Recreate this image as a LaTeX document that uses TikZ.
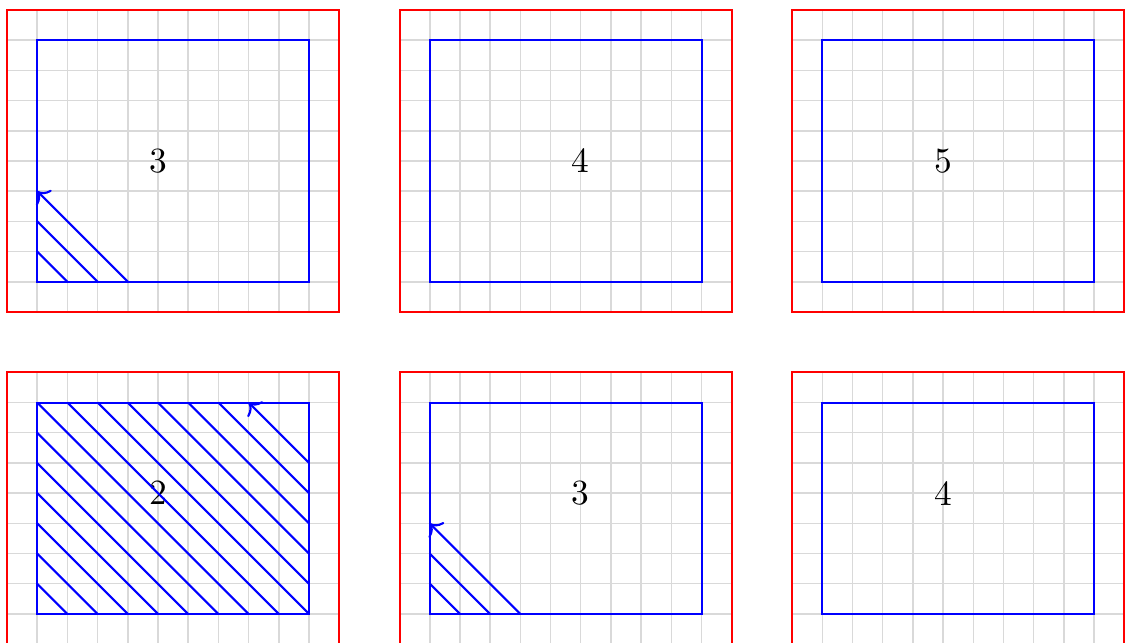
\documentclass[tikz,border=0pt]{standalone}
\usepackage{amsmath,amssymb}
\usetikzlibrary{arrows.meta}

\begin{document}
\begin{tikzpicture}[x=0.3cm,y=0.3cm,
    gridline/.style={gray!30, thin},
    outerbox/.style={red, semithick},
    innerbox/.style={blue, semithick},
    hatch/.style={blue, semithick}]
    \useasboundingbox (-0.232,-20.96) rectangle (37.22,0.331);
    \clip (-0.232,-20.96) rectangle (37.22,0.331);

    % Panels: top-left corner / height / label position / label
    \foreach \px/\py/\h/\lx/\ly/\lbl/\nm in {
        0/0/10/5/-5/3/a, 13/0/10/19/-5/4/b, 26/0/10/31/-5/5/c,
        0/-12/9/5/-16/2/d, 13/-12/9/19/-16/3/e, 26/-12/9/31/-16/4/f} {
        % Grid
        \begin{scope}
            \clip (\px,\py-\h) rectangle (\px+11,\py);
            \draw[gridline, step=1] (\px,\py-\h) grid (\px+11,\py);
        \end{scope}
        % Boxes
        \draw[outerbox] (\px,\py-\h) rectangle (\px+11,\py);
        \draw[innerbox] (\px+1,\py-\h+1) rectangle (\px+10,\py-1);
        \node (lbl-\nm) at (\lx,\ly) {\lbl};
    }

    % Hatching, panel a
    \foreach \sx/\sy/\ex/\ey in {2/-9/1/-8, 3/-9/1/-7}
        \draw[hatch] (\sx,\sy) -- (\ex,\ey);
    \draw[hatch, ->] (4,-9) -- (1,-6);

    % Hatching, panel d
    \foreach \sx/\sy/\ex/\ey in {2/-20/1/-19, 3/-20/1/-18, 4/-20/1/-17,
        5/-20/1/-16, 6/-20/1/-15, 7/-20/1/-14, 8/-20/1/-13, 9/-20/2/-13,
        10/-20/3/-13, 10/-19/4/-13, 10/-18/5/-13, 10/-17/6/-13, 10/-16/7/-13}
        \draw[hatch] (\sx,\sy) -- (\ex,\ey);
    \draw[hatch, ->] (10,-15) -- (8,-13);

    % Hatching, panel e
    \foreach \sx/\sy/\ex/\ey in {15/-20/14/-19, 16/-20/14/-18}
        \draw[hatch] (\sx,\sy) -- (\ex,\ey);
    \draw[hatch, ->] (17,-20) -- (14,-17);
\end{tikzpicture}
\end{document}
